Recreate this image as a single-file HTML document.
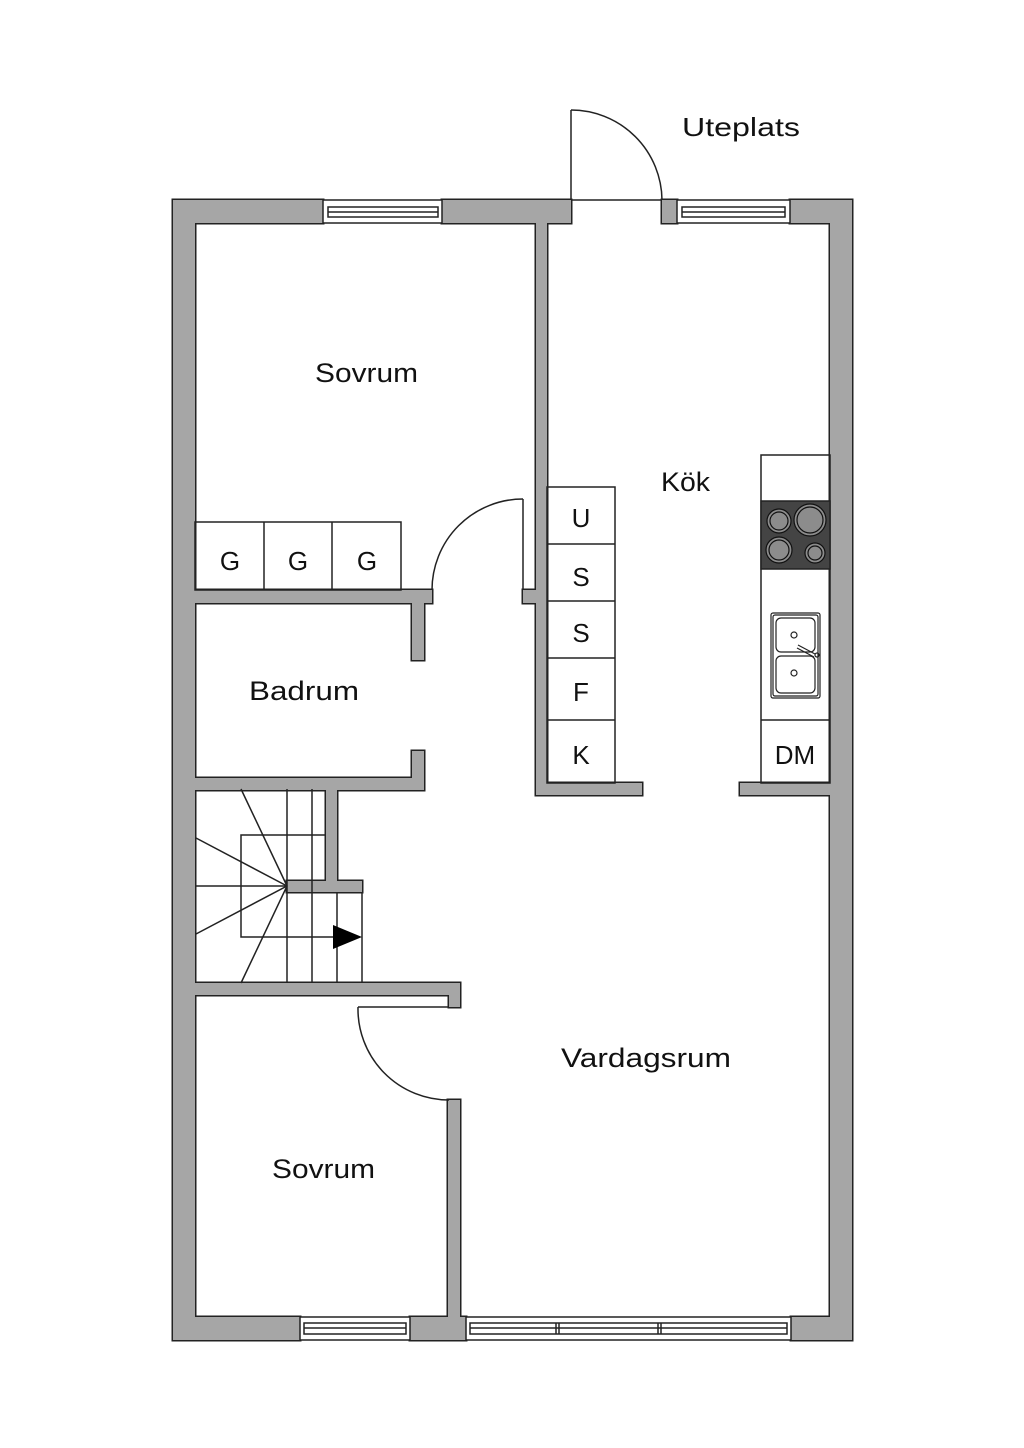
<!DOCTYPE html>
<html><head><meta charset="utf-8"><style>
html,body{margin:0;padding:0;background:#fff;}
svg{display:block;}
text{font-family:"Liberation Sans",sans-serif;fill:#111;}
</style></head><body>
<svg width="1024" height="1448" viewBox="0 0 1024 1448" xmlns="http://www.w3.org/2000/svg">
<rect width="1024" height="1448" fill="#fff"/>
<!-- walls: stroke pass -->
<g id="walls" stroke="#222" stroke-width="3" fill="#222">
<rect x="173" y="200" width="150" height="23"/>
<rect x="442" y="200" width="129" height="23"/>
<rect x="662" y="200" width="15" height="23"/>
<rect x="790" y="200" width="62" height="23"/>
<rect x="173" y="200" width="22" height="1140"/>
<rect x="830" y="200" width="22" height="1140"/>
<rect x="173" y="1317" width="127" height="23"/>
<rect x="410" y="1317" width="56" height="23"/>
<rect x="791" y="1317" width="61" height="23"/>
<rect x="173" y="603" width="18" height="187"/>
<rect x="536" y="223" width="11" height="572"/>
<rect x="536" y="783" width="106" height="12"/>
<rect x="523" y="590" width="13" height="13"/>
<rect x="740" y="783" width="90" height="12"/>
<rect x="191" y="590" width="241" height="13"/>
<rect x="412" y="590" width="12" height="70"/>
<rect x="412" y="751" width="12" height="39"/>
<rect x="191" y="778" width="233" height="12"/>
<rect x="326" y="789" width="11" height="103"/>
<rect x="287" y="881" width="75" height="11"/>
<rect x="195" y="983" width="265" height="12"/>
<rect x="449" y="983" width="11" height="24"/>
<rect x="448" y="1100" width="12" height="217"/>
</g>
<g fill="#a6a6a6" stroke="none">
<rect x="173" y="200" width="150" height="23"/>
<rect x="442" y="200" width="129" height="23"/>
<rect x="662" y="200" width="15" height="23"/>
<rect x="790" y="200" width="62" height="23"/>
<rect x="173" y="200" width="22" height="1140"/>
<rect x="830" y="200" width="22" height="1140"/>
<rect x="173" y="1317" width="127" height="23"/>
<rect x="410" y="1317" width="56" height="23"/>
<rect x="791" y="1317" width="61" height="23"/>
<rect x="173" y="603" width="18" height="187"/>
<rect x="536" y="223" width="11" height="572"/>
<rect x="536" y="783" width="106" height="12"/>
<rect x="523" y="590" width="13" height="13"/>
<rect x="740" y="783" width="90" height="12"/>
<rect x="191" y="590" width="241" height="13"/>
<rect x="412" y="590" width="12" height="70"/>
<rect x="412" y="751" width="12" height="39"/>
<rect x="191" y="778" width="233" height="12"/>
<rect x="326" y="789" width="11" height="103"/>
<rect x="287" y="881" width="75" height="11"/>
<rect x="195" y="983" width="265" height="12"/>
<rect x="449" y="983" width="11" height="24"/>
<rect x="448" y="1100" width="12" height="217"/>
</g>
<g fill="none" stroke="#222" stroke-width="1.5">
<!-- windows -->
<rect x="323" y="200" width="119" height="23" fill="#fff"/>
<rect x="328" y="207" width="110" height="10"/>
<line x1="328" y1="212" x2="438" y2="212"/>
<rect x="677" y="200" width="113" height="23" fill="#fff"/>
<rect x="682" y="207" width="103" height="10"/>
<line x1="682" y1="212" x2="785" y2="212"/>
<rect x="300" y="1317" width="110" height="23" fill="#fff"/>
<rect x="304" y="1323" width="102" height="11"/>
<line x1="304" y1="1328" x2="406" y2="1328"/>
<rect x="466" y="1317" width="325" height="23" fill="#fff"/>
<rect x="470" y="1323" width="317" height="11"/>
<line x1="470" y1="1328" x2="787" y2="1328"/>
<line x1="556" y1="1323" x2="556" y2="1334"/><line x1="559" y1="1323" x2="559" y2="1334"/>
<line x1="658" y1="1323" x2="658" y2="1334"/><line x1="661" y1="1323" x2="661" y2="1334"/>
<!-- entrance door -->
<line x1="571" y1="200" x2="662" y2="200"/>
<line x1="571" y1="110" x2="571" y2="200"/>
<path d="M571 110 A91 91 0 0 1 662 200"/>
<!-- sovrum door -->
<line x1="523" y1="499" x2="523" y2="590"/>
<path d="M523 499 A91 91 0 0 0 432 590"/>
<!-- bottom sovrum door -->
<line x1="358" y1="1007" x2="449" y2="1007"/>
<path d="M358 1007 A91 91 0 0 0 449 1100"/>
<!-- closets G -->
<rect x="195" y="522" width="206" height="68"/>
<line x1="264" y1="522" x2="264" y2="590"/>
<line x1="332" y1="522" x2="332" y2="590"/>
<!-- kitchen left -->
<rect x="547" y="487" width="68" height="296"/>
<line x1="547" y1="544" x2="615" y2="544"/>
<line x1="547" y1="601" x2="615" y2="601"/>
<line x1="547" y1="658" x2="615" y2="658"/>
<line x1="547" y1="720" x2="615" y2="720"/>
<!-- kitchen right -->
<rect x="761" y="455" width="69" height="328"/>
<line x1="761" y1="720" x2="830" y2="720"/>
<!-- stairs -->
<line x1="287" y1="789" x2="287" y2="983"/>
<line x1="312" y1="789" x2="312" y2="983"/>
<line x1="337" y1="892" x2="337" y2="983"/>
<line x1="362" y1="892" x2="362" y2="983"/>
<polyline points="326,835 241,835 241,937 340,937"/>
<line x1="287" y1="886" x2="241" y2="789"/>
<line x1="287" y1="886" x2="196" y2="838"/>
<line x1="287" y1="886" x2="196" y2="886"/>
<line x1="287" y1="886" x2="196" y2="934"/>
<line x1="287" y1="886" x2="241" y2="983"/>
</g>
<polygon points="333,925 333,949 362,937" fill="#000"/>
<!-- stove -->
<rect x="761" y="501" width="69" height="68" fill="#444" stroke="#222" stroke-width="1.5"/>
<g stroke="#111" stroke-width="1.2" fill="#8c8c8c">
<circle cx="779" cy="521" r="12"/><circle cx="779" cy="521" r="9"/>
<circle cx="810" cy="520" r="16"/><circle cx="810" cy="520" r="13"/>
<circle cx="779" cy="550" r="13"/><circle cx="779" cy="550" r="10"/>
<circle cx="815" cy="553" r="10"/><circle cx="815" cy="553" r="7"/>
</g>
<!-- sink -->
<g fill="none" stroke="#222" stroke-width="1.2">
<rect x="771" y="613" width="49" height="85" rx="2"/>
<rect x="773" y="615" width="45" height="81" rx="2"/>
<rect x="776" y="618" width="39" height="34" rx="5"/>
<rect x="776" y="656" width="39" height="37" rx="5"/>
<circle cx="794" cy="635" r="3"/><circle cx="794" cy="673" r="3"/>
<path d="M798 645 L815 654 M797 648 L814 657"/>
<circle cx="817" cy="655" r="2"/>
</g>
<!-- labels -->
<text x="682" y="136" font-size="26" textLength="118" lengthAdjust="spacingAndGlyphs">Uteplats</text>
<text x="315" y="382" font-size="27" textLength="103" lengthAdjust="spacingAndGlyphs">Sovrum</text>
<text x="661" y="491" font-size="27" textLength="49" lengthAdjust="spacingAndGlyphs">Kök</text>
<text x="249" y="700" font-size="27" textLength="110" lengthAdjust="spacingAndGlyphs">Badrum</text>
<text x="561" y="1067" font-size="27" textLength="170" lengthAdjust="spacingAndGlyphs">Vardagsrum</text>
<text x="272" y="1178" font-size="27" textLength="103" lengthAdjust="spacingAndGlyphs">Sovrum</text>
<g font-size="26" text-anchor="middle">
<text x="230" y="570">G</text><text x="298" y="570">G</text><text x="367" y="570">G</text>
<text x="581" y="527">U</text><text x="581" y="586">S</text><text x="581" y="642">S</text>
<text x="581" y="701">F</text><text x="581" y="764">K</text>
<text x="795" y="764">DM</text>
</g>
</svg>
</body></html>
